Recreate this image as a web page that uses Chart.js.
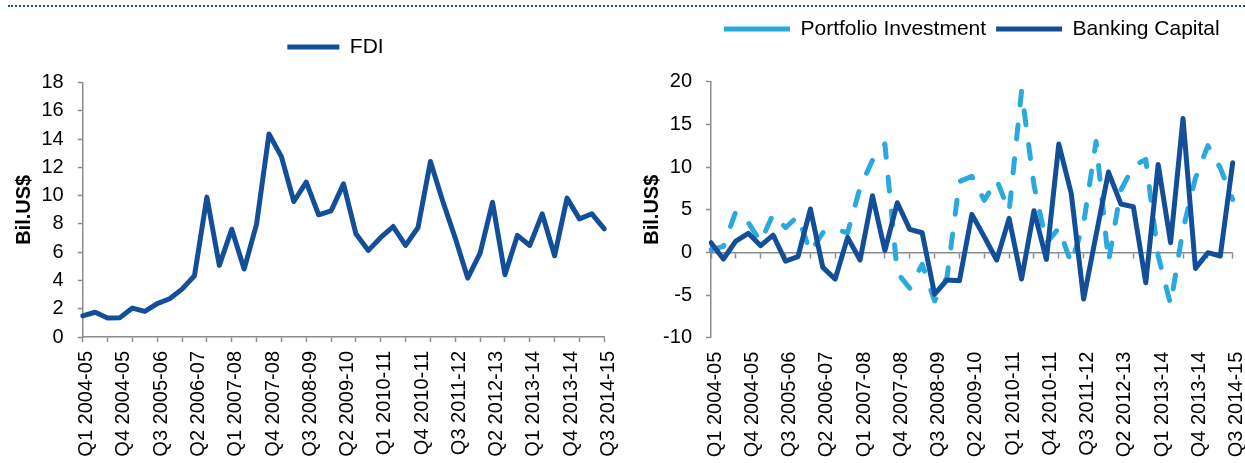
<!DOCTYPE html>
<html lang="en">
<head>
<meta charset="UTF-8">
<title>FDI, Portfolio Investment and Banking Capital</title>
<script src="https://cdn.jsdelivr.net/npm/chart.js"></script>
<style>
    html, body {
        margin: 0;
        padding: 0;
        background: #fff;
        overflow: hidden;
    }

    body {
        width: 1245px;
        height: 463px;
        position: relative;
    }

    .rule {
        position: absolute;
        top: 5px;
        left: 8px;
        right: 0;
        border-top: 2px dotted #1f4f9c;
    }

    .box {
        position: absolute;
        top: 0;
        height: 463px;
    }

    #left {
        left: 0;
        width: 645px;
    }

    #right {
        left: 640px;
        width: 669px;
    }
</style>
</head>
<body>
<div class="rule"></div>
<div class="box" id="left"><canvas id="fdiChart"></canvas></div>
<div class="box" id="right"><canvas id="flowChart"></canvas></div>

<script>
    // quarters, Q1 2004-05 .. Q3 2014-15
    const quarters = [
        'Q1 2004-05', 'Q2 2004-05', 'Q3 2004-05', 'Q4 2004-05',
        'Q1 2005-06', 'Q2 2005-06', 'Q3 2005-06', 'Q4 2005-06',
        'Q1 2006-07', 'Q2 2006-07', 'Q3 2006-07', 'Q4 2006-07',
        'Q1 2007-08', 'Q2 2007-08', 'Q3 2007-08', 'Q4 2007-08',
        'Q1 2008-09', 'Q2 2008-09', 'Q3 2008-09', 'Q4 2008-09',
        'Q1 2009-10', 'Q2 2009-10', 'Q3 2009-10', 'Q4 2009-10',
        'Q1 2010-11', 'Q2 2010-11', 'Q3 2010-11', 'Q4 2010-11',
        'Q1 2011-12', 'Q2 2011-12', 'Q3 2011-12', 'Q4 2011-12',
        'Q1 2012-13', 'Q2 2012-13', 'Q3 2012-13', 'Q4 2012-13',
        'Q1 2013-14', 'Q2 2013-14', 'Q3 2013-14', 'Q4 2013-14',
        'Q1 2014-15', 'Q2 2014-15', 'Q3 2014-15'
    ];

    // Bil. US$
    const fdi = [1.5, 1.75, 1.35, 1.37, 2.05, 1.81, 2.36, 2.71, 3.39, 4.34,
        9.9, 5.07, 7.63, 4.81, 7.99, 14.37, 12.77, 9.59, 10.96, 8.65,
        8.93, 10.84, 7.3, 6.13, 7.05, 7.82, 6.48, 7.75, 12.42, 9.59,
        7.0, 4.17, 5.94, 9.54, 4.41, 7.19, 6.48, 8.72, 5.75, 9.83,
        8.36, 8.72, 7.66];

    const portfolio = [0.3, 0.7, 4.8, 3.5, 1.2, 4.5, 2.9, 4.25, 0.0, 2.3,
        2.7, 2.3, 7.6, 10.8, 12.7, -2.4, -4.2, -1.4, -5.7, -2.9,
        8.3, 8.9, 6.1, 8.5, 4.8, 18.9, 7.9, 1.1, 2.85, -1.3,
        3.4, 13.0, -1.1, 7.3, 10.1, 10.9, -0.4, -6.1, 2.7, 8.7,
        12.5, 9.9, 6.2];

    const banking = [1.13, -0.78, 1.33, 2.23, 0.78, 2.03, -1.02, -0.51, 5.08, -1.76,
        -3.13, 1.76, -0.9, 6.64, 0.2, 5.82, 2.7, 2.3, -4.9, -3.24,
        -3.32, 4.45, 1.84, -0.9, 3.98, -3.13, 4.88, -0.82, 12.7, 6.91,
        -5.47, 2.03, 9.41, 5.66, 5.35, -3.55, 10.31, 1.13, 15.7, -1.88,
        -0.04, -0.43, 10.5];

    // y axis [min, max, step]
    const fdiRange = [0, 18, 2];
    const flowRange = [-10, 20, 5];

    const axisGrey = '#8c8c8c';
    const darkBlue = '#134f99';
    const lightBlue = '#29a9e0';

    Chart.defaults.font.family = '"Liberation Sans", Arial, sans-serif';
    Chart.defaults.color = '#000';

    // label every third quarter, tick mark every second one
    function quarterLabel(value, index) {
        return index % 3 === 0 ? quarters[index] : '';
    }

    function everyOtherTick(ctx) {
        return ctx.index % 2 === 0 ? axisGrey : 'rgba(0,0,0,0)';
    }

    function yAxis(range, width, titlePad) {
        return {
            min: range[0],
            max: range[1],
            ticks: { stepSize: range[2], font: { size: 20 }, padding: 14, color: '#000' },
            grid: { drawOnChartArea: false, tickLength: 5, tickColor: axisGrey, tickWidth: 1.5 },
            border: { color: axisGrey, width: 1.5 },
            title: {
                display: true,
                text: 'Bil.US$',
                font: { size: 20, weight: 'bold' },
                padding: { top: titlePad, bottom: 0 }
            },
            afterFit: function (s) { s.width = width; }
        };
    }

    function quarterAxis(height, pad, withTicks) {
        return {
            type: 'category',
            offset: false,
            ticks: {
                autoSkip: false,
                minRotation: 90,
                maxRotation: 90,
                font: { size: 20 },
                padding: pad,
                labelOffset: 4,
                color: '#000',
                callback: quarterLabel
            },
            grid: withTicks
                ? { drawOnChartArea: false, tickLength: 5, tickColor: everyOtherTick, tickWidth: 1.5 }
                : { display: false, drawTicks: false },
            border: withTicks ? { color: axisGrey, width: 1.5 } : { display: false },
            afterFit: function (s) { s.height = height; }
        };
    }

    // empty axis used only as space between legend and plot
    function gapAxis(height) {
        return {
            type: 'category',
            axis: 'x',
            position: 'top',
            ticks: { display: false },
            grid: { display: false, drawTicks: false },
            border: { display: false },
            afterFit: function (s) { s.height = height; }
        };
    }

    function legendOpts(sampleWidth) {
        return {
            fullSize: false,
            labels: {
                usePointStyle: true,
                pointStyle: 'line',
                pointStyleWidth: sampleWidth,
                font: { size: 21 },
                color: '#000',
                padding: 10,
                sort: function (a, b) { return a.datasetIndex - b.datasetIndex; }
            }
        };
    }

    // the FDI legend sits a little left of the plot centre
    const nudgeLegend = {
        id: 'nudgeLegend',
        afterLayout: function (chart) {
            chart.legend.left -= 8;
            chart.legend.right -= 8;
        }
    };

    new Chart(document.getElementById('fdiChart'), {
        type: 'line',
        data: {
            labels: quarters,
            datasets: [{
                label: 'FDI',
                data: fdi,
                borderColor: darkBlue,
                backgroundColor: darkBlue,
                borderWidth: 5,
                borderJoinStyle: 'round',
                borderCapStyle: 'round',
                pointRadius: 0,
                tension: 0
            }]
        },
        options: {
            responsive: true,
            maintainAspectRatio: false,
            animation: false,
            layout: { padding: { left: 0, right: 40.7, top: 26.5, bottom: 0 } },
            plugins: { legend: legendOpts(52), tooltip: { enabled: false } },
            scales: {
                x: quarterAxis(126, 9, true),
                pad: gapAxis(15.2),
                y: yAxis(fdiRange, 82.7, 12)
            }
        },
        plugins: [nudgeLegend]
    });

    new Chart(document.getElementById('flowChart'), {
        type: 'line',
        data: {
            labels: quarters,
            datasets: [{
                label: 'Portfolio Investment',
                data: portfolio,
                borderColor: lightBlue,
                backgroundColor: lightBlue,
                borderWidth: 5,
                borderDash: [14, 20],
                borderCapStyle: 'round',
                borderJoinStyle: 'round',
                pointRadius: 0,
                tension: 0,
                order: 1
            }, {
                label: 'Banking Capital',
                data: banking,
                borderColor: darkBlue,
                backgroundColor: darkBlue,
                borderWidth: 5,
                borderCapStyle: 'round',
                borderJoinStyle: 'round',
                pointRadius: 0,
                tension: 0,
                order: 0
            }]
        },
        options: {
            responsive: true,
            maintainAspectRatio: false,
            animation: false,
            layout: { padding: { left: 0, right: 76.3, top: 8.5, bottom: 0 } },
            plugins: { legend: legendOpts(66), tooltip: { enabled: false } },
            scales: {
                x: quarterAxis(125.3, 14, false),
                x0: {
                    type: 'category',
                    axis: 'x',
                    offset: false,
                    position: { y: 0 },
                    ticks: { display: false, autoSkip: false },
                    grid: { drawOnChartArea: false, tickLength: 5, tickColor: everyOtherTick, tickWidth: 1.5 },
                    border: { color: axisGrey, width: 1.5 }
                },
                pad: gapAxis(32.2),
                y: yAxis(flowRange, 71, 0.5)
            }
        }
    });
</script>
</body>
</html>
